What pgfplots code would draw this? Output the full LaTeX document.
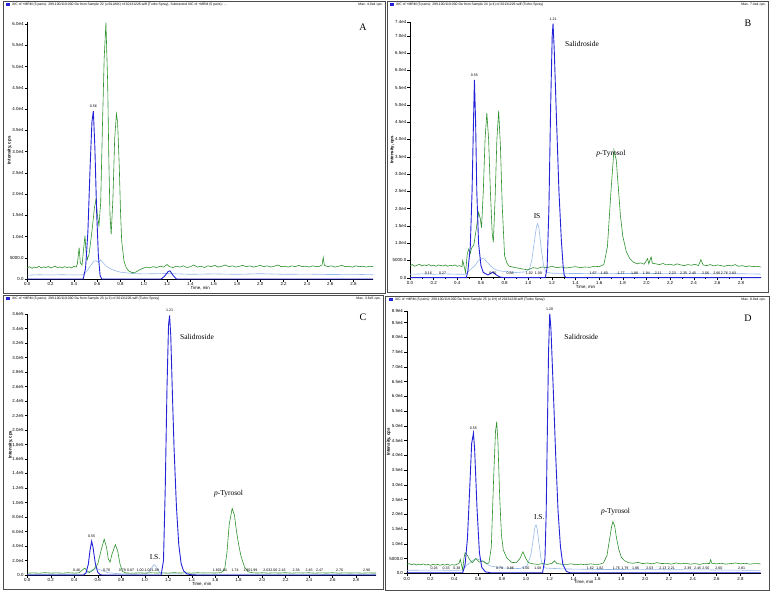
\documentclass[border=0pt]{standalone}
\usepackage{pgfplots}
\pgfplotsset{compat=1.18}
\usepackage{fontspec}
\setmainfont{Liberation Sans}
\newfontfamily\arialf{Liberation Sans}
\newfontfamily\timesf{Liberation Serif}
\newcommand\tickfont{\arialf\fontsize{4.4}{5}\selectfont}
\newcommand\hdrfont{\arialf\fontsize{3.4}{4}\selectfont}
\newcommand\annfont{\timesf\fontsize{7.5}{9}\selectfont}
\newcommand\letfont{\timesf\fontsize{10}{12}\selectfont}
\newcommand\rtfont{\arialf\fontsize{3.6}{4}\selectfont}
\definecolor{cgreen}{RGB}{45,145,45}
\definecolor{cblue}{RGB}{35,35,215}
\definecolor{clblue}{RGB}{150,185,235}
\newcommand\rtlabels[2]{%
  \foreach \px/\lab in {#2}{%
    \edef\temp{\noexpand\node[font=\noexpand\rtfont, inner sep=0pt] at (axis cs:\px,#1) {\lab};}\temp}}
\pgfplotsset{
  chrom/.style={
    scale only axis, axis lines*=left, xmin=0, xmax=2.97, ymin=0, clip=false,
    anchor=south west, scaled y ticks=false, scaled x ticks=false,
    tick align=outside, major tick length=2.6pt, minor tick length=1.2pt,
    xtick={0,0.2,0.4,0.6,0.8,1.0,1.2,1.4,1.6,1.8,2.0,2.2,2.4,2.6,2.8},
    xticklabels={0.0,0.2,0.4,0.6,0.8,1.0,1.2,1.4,1.6,1.8,2.0,2.2,2.4,2.6,2.8},
    minor x tick num=1,
    /pgf/number format/assume math mode=true,
    tick label style={font=\tickfont, inner sep=1pt},
    xlabel={Time, min}, ylabel={\textbf{Intensity, cps}},
    xlabel style={font=\tickfont, yshift=4pt},
    ylabel style={font=\tickfont, yshift=-6pt},
    axis line style={line width=0.4pt},
    every tick/.style={black, line width=0.3pt},
    lb/.style={color=clblue, line width=0.6pt, mark=none},
    gr/.style={color=cgreen, line width=0.6pt, mark=none},
    db/.style={color=cblue, line width=0.9pt, mark=none},
  }
}
\begin{document}
\begin{tikzpicture}[x=1pt,y=1pt]
\useasboundingbox (0,0) rectangle (772,592);
% frames
\draw[line width=0.5pt, black!70] (3,591) rectangle (385,299);
\draw[line width=0.5pt, black!70] (387,591) rectangle (768,300);
\draw[line width=0.5pt, black!70] (3,297) rectangle (383,3);
\draw[line width=0.5pt, black!70] (385,296) rectangle (769,2);
% headers
\fill[cblue] (6,585.5) rectangle (9.5,589);
\node[anchor=west, inner sep=0pt, font=\hdrfont] at (12,587.2) {XIC of +MRM (5 pairs): 299.100/119.000 Da from Sample 22 (u BLANK) of 20131226.wiff (Turbo Spray), Subtracted XIC of +MRM (5 pairs): ...};
\node[anchor=east, inner sep=0pt, font=\hdrfont] at (383,587.2) {Max. 4.0e4 cps.};
\fill[cblue] (390,585.5) rectangle (393.5,589);
\node[anchor=west, inner sep=0pt, font=\hdrfont] at (396,587.2) {XIC of +MRM (5 pairs): 299.100/119.000 Da from Sample 24 (u 4) of 20131226.wiff (Turbo Spray)};
\node[anchor=east, inner sep=0pt, font=\hdrfont] at (766,587.2) {Max. 7.4e4 cps.};
\fill[cblue] (6,291.5) rectangle (9.5,295);
\node[anchor=west, inner sep=0pt, font=\hdrfont] at (12,293.2) {XIC of +MRM (5 pairs): 299.100/119.000 Da from Sample 23 (u 3) of 20131226.wiff (Turbo Spray)};
\node[anchor=east, inner sep=0pt, font=\hdrfont] at (381,293.2) {Max. 3.6e5 cps.};
\fill[cblue] (389,290.5) rectangle (392.5,294);
\node[anchor=west, inner sep=0pt, font=\hdrfont] at (395,292.2) {XIC of +MRM (5 pairs): 299.100/119.000 Da from Sample 25 (u 1H) of 20131226.wiff (Turbo Spray)};
\node[anchor=east, inner sep=0pt, font=\hdrfont] at (766,292.2) {Max. 8.9e4 cps.};
% panel letters
\node[font=\letfont] at (363,565) {A};
\node[font=\letfont] at (748,569) {B};
\node[font=\letfont] at (363,275) {C};
\node[font=\letfont] at (748,274) {D};

%================ A
\begin{axis}[chrom, at={(27.3pt,313pt)}, width=346pt, height=257.1pt, ymax=60500,
  ytick={0,5000,10000,15000,20000,25000,30000,35000,40000,45000,50000,55000,60000},
  yticklabels={0.0,5000.0,1.0e4,1.5e4,2.0e4,2.5e4,3.0e4,3.5e4,4.0e4,4.5e4,5.0e4,5.5e4,6.0e4}]
\addplot[lb] coordinates {(0,900)(0.1,1000)(0.2,950)(0.3,1000)(0.4,950)(0.48,1000)(0.51,1800)(0.54,3000)(0.57,4200)(0.59,4300)(0.61,3900)(0.63,4500)(0.65,3800)(0.68,3000)(0.72,2300)(0.76,1900)(0.8,1600)(0.9,1300)(1.0,1200)(1.2,1300)(1.4,1100)(1.6,1200)(1.8,1100)(2.0,1250)(2.2,1100)(2.4,1150)(2.6,1050)(2.8,1100)(2.97,1000)};
\addplot[gr] coordinates {(0.00,2600)(0.02,2900)(0.04,2500)(0.06,2800)(0.08,2650)(0.10,3000)(0.12,2600)(0.14,2850)(0.16,2700)(0.18,2950)(0.20,2600)(0.22,2800)(0.24,3000)(0.26,2650)(0.28,2850)(0.30,2600)(0.32,2900)(0.34,2700)(0.36,2850)(0.38,2600)(0.40,3000)(0.42,2800)(0.43,3600)(0.445,7400)(0.455,3800)(0.47,3300)(0.485,7500)(0.495,10200)(0.505,6200)(0.515,4600)(0.53,5800)(0.545,9000)(0.56,12500)(0.575,16500)(0.59,18800)(0.60,15500)(0.615,12500)(0.63,18000)(0.645,36000)(0.66,52000)(0.675,60300)(0.69,46000)(0.70,28000)(0.71,15000)(0.72,10500)(0.735,19000)(0.75,33000)(0.765,38900)(0.775,37000)(0.79,26000)(0.80,16000)(0.81,9000)(0.83,4200)(0.85,2600)(0.87,1900)(0.90,1500)(0.93,1600)(0.96,2100)(0.99,2500)(1.02,2800)(1.05,2600)(1.08,2900)(1.11,2700)(1.14,3000)(1.17,2800)(1.20,3400)(1.22,2900)(1.25,2700)(1.28,3000)(1.31,2800)(1.34,3100)(1.37,2700)(1.40,2900)(1.43,3300)(1.46,2800)(1.49,3000)(1.52,2700)(1.55,3100)(1.58,2900)(1.61,3200)(1.64,2800)(1.67,3000)(1.70,3300)(1.73,2900)(1.76,3100)(1.79,2800)(1.82,3000)(1.85,3200)(1.88,2900)(1.91,3100)(1.94,2800)(1.97,3000)(2.00,3200)(2.03,2900)(2.06,3100)(2.09,2800)(2.12,3000)(2.15,3300)(2.18,2900)(2.21,3000)(2.24,2800)(2.27,3100)(2.30,2900)(2.33,3200)(2.36,2900)(2.39,3000)(2.42,2800)(2.45,3100)(2.48,2900)(2.51,3000)(2.53,3300)(2.54,5100)(2.55,3200)(2.58,2900)(2.61,3100)(2.64,2800)(2.67,3000)(2.70,3200)(2.73,2900)(2.76,3000)(2.79,2800)(2.82,3100)(2.85,2900)(2.88,3000)(2.91,2800)(2.94,3000)(2.97,2900)};
\addplot[db] coordinates {(0,0)(0.48,0)(0.50,2500)(0.52,11000)(0.54,27000)(0.555,37000)(0.567,39500)(0.58,31000)(0.595,16000)(0.61,5500)(0.625,800)(0.64,0)(1.15,0)(1.18,700)(1.21,1800)(1.225,1900)(1.25,900)(1.28,0)(2.97,0)};
\node[font=\rtfont, anchor=south] at (axis cs:0.567,39500) {0.56};
\end{axis}

%================ B
\begin{axis}[chrom, at={(410pt,314.3pt)}, width=351.1pt, height=255.8pt, ymax=74000,
  ytick={0,5000,10000,15000,20000,25000,30000,35000,40000,45000,50000,55000,60000,65000,70000,74000},
  yticklabels={0.0,5000.0,1.0e4,1.5e4,2.0e4,2.5e4,3.0e4,3.5e4,4.0e4,4.5e4,5.0e4,5.5e4,6.0e4,6.5e4,7.0e4,7.4e4}]
\addplot[lb] coordinates {(0,1000)(0.1,1100)(0.2,1000)(0.3,1100)(0.4,1000)(0.47,1000)(0.50,2000)(0.55,3500)(0.58,5000)(0.62,5700)(0.65,4600)(0.68,3500)(0.71,2600)(0.75,2000)(0.80,1800)(0.90,1500)(0.98,1700)(1.01,2500)(1.03,5000)(1.05,10000)(1.07,14800)(1.08,15700)(1.09,14500)(1.11,8500)(1.13,3500)(1.15,1600)(1.2,1300)(1.4,1200)(1.6,1300)(1.8,1200)(2.0,1250)(2.2,1150)(2.4,1200)(2.6,1100)(2.8,1150)(2.97,1050)};
\addplot[gr] coordinates {(0.00,3400)(0.02,3800)(0.04,3300)(0.06,3600)(0.08,3900)(0.10,3400)(0.12,3700)(0.14,3500)(0.16,3800)(0.18,3400)(0.20,3600)(0.22,3300)(0.24,3700)(0.26,3500)(0.28,3400)(0.30,3700)(0.32,3300)(0.34,3600)(0.36,3400)(0.38,3700)(0.40,3300)(0.42,3500)(0.44,3200)(0.446,5000)(0.47,1500)(0.485,7000)(0.497,8300)(0.51,7000)(0.52,8500)(0.54,9500)(0.56,14000)(0.58,18900)(0.595,17000)(0.605,14500)(0.62,25000)(0.635,40000)(0.65,47700)(0.665,40000)(0.68,25000)(0.695,13000)(0.705,10250)(0.72,23000)(0.735,40000)(0.75,48300)(0.765,38000)(0.78,21000)(0.80,6400)(0.82,4200)(0.84,3300)(0.88,3000)(0.91,2800)(0.94,2600)(0.97,2400)(1.00,2300)(1.04,2900)(1.08,2700)(1.12,3100)(1.16,2900)(1.20,3300)(1.24,2900)(1.28,3100)(1.32,2800)(1.36,3000)(1.40,3200)(1.44,2900)(1.48,3100)(1.52,3000)(1.56,3300)(1.60,3200)(1.64,3800)(1.67,9000)(1.70,25000)(1.725,36900)(1.745,34000)(1.76,27000)(1.78,18000)(1.80,12000)(1.83,7500)(1.86,5500)(1.89,4500)(1.92,4000)(1.95,4300)(1.98,3900)(2.01,5500)(2.02,4000)(2.04,6000)(2.05,4200)(2.08,4000)(2.11,3800)(2.14,4100)(2.17,3700)(2.20,3900)(2.23,3600)(2.26,4000)(2.29,3700)(2.32,3500)(2.35,3800)(2.38,3600)(2.41,3900)(2.44,3500)(2.46,5200)(2.48,3700)(2.51,3500)(2.54,3800)(2.57,3400)(2.60,3700)(2.63,3500)(2.66,3300)(2.69,3600)(2.72,3400)(2.75,3800)(2.78,3300)(2.81,3500)(2.84,3200)(2.87,3400)(2.90,3200)(2.93,3300)(2.97,3100)};
\addplot[db] coordinates {(0,0)(0.476,0)(0.49,2000)(0.51,9000)(0.525,25000)(0.537,45000)(0.545,57200)(0.555,45000)(0.565,25000)(0.58,10000)(0.60,3500)(0.62,1500)(0.66,800)(0.70,1600)(0.73,800)(0.76,200)(0.80,0)(1.145,0)(1.16,3000)(1.175,20000)(1.19,50000)(1.203,70000)(1.21,73500)(1.22,66000)(1.24,45000)(1.26,25000)(1.28,11000)(1.295,3500)(1.305,600)(1.32,0)(2.97,0)};
\node[font=\rtfont, anchor=south] at (axis cs:0.545,57200) {0.55};
\node[font=\rtfont, anchor=south] at (axis cs:1.21,73500) {1.21};
\node[font=\annfont] at (axis cs:1.455,67600) {Salidroside};
\node[font=\annfont] at (axis cs:1.075,17900) {IS};
\node[font=\annfont] at (axis cs:1.70,36000) {\textit{p}-Tyrosol};
\rtlabels{1400}{0.155/0.16,0.275/0.27,0.70/0.70,0.846/0.88,1.01/1.02,1.085/1.09,1.55/1.67,1.645/1.60,1.785/1.77,1.90/1.88,2.0/1.94,2.10/2.11,2.22/2.23,2.315/2.35,2.39/2.45,2.50/2.56,2.595/2.66,2.66/2.76,2.73/2.83}
\end{axis}

%================ C
\begin{axis}[chrom, at={(27.3pt,17pt)}, width=348.7pt, height=261pt, ymax=360000,
  ylabel style={yshift=1.5pt},
  ytick={0,20000,40000,60000,80000,100000,120000,140000,160000,180000,200000,220000,240000,260000,280000,300000,320000,340000,360000},
  yticklabels={0.0,2.0e4,4.0e4,6.0e4,8.0e4,1.0e5,1.2e5,1.4e5,1.6e5,1.8e5,2.0e5,2.2e5,2.4e5,2.6e5,2.8e5,3.0e5,3.2e5,3.4e5,3.6e5}]
\addplot[lb] coordinates {(0,1000)(0.2,1100)(0.4,1000)(0.48,1200)(0.52,3500)(0.56,8000)(0.60,8500)(0.64,6000)(0.68,3500)(0.74,2200)(0.80,1600)(0.9,1400)(1.0,1500)(1.03,3000)(1.05,7500)(1.07,12500)(1.08,14000)(1.09,13000)(1.11,8000)(1.13,3000)(1.15,1500)(1.3,1300)(1.6,1200)(2.0,1200)(2.5,1100)(2.97,1000)};
\addplot[gr] coordinates {(0.00,2500)(0.05,3000)(0.10,2500)(0.15,3200)(0.20,2600)(0.25,3000)(0.30,2500)(0.35,3100)(0.40,2600)(0.44,3000)(0.47,7000)(0.49,9500)(0.51,5500)(0.53,3500)(0.56,6500)(0.60,15000)(0.63,35000)(0.655,49400)(0.675,38000)(0.69,22000)(0.705,17800)(0.72,28000)(0.75,42000)(0.77,33000)(0.79,15000)(0.81,5000)(0.84,2800)(0.90,2500)(0.95,3000)(1.0,2600)(1.05,3100)(1.1,2700)(1.15,3000)(1.2,2600)(1.25,3200)(1.3,2700)(1.35,3000)(1.4,2600)(1.45,3100)(1.5,2800)(1.55,3000)(1.60,2700)(1.65,3200)(1.68,7000)(1.70,30000)(1.72,70000)(1.745,92000)(1.765,82000)(1.78,62000)(1.80,42000)(1.82,26000)(1.85,11000)(1.88,4500)(1.92,3000)(1.96,2700)(2.0,3100)(2.05,2600)(2.1,3000)(2.15,2700)(2.2,3200)(2.25,2600)(2.3,3000)(2.35,2800)(2.4,3100)(2.45,2600)(2.5,3000)(2.55,2700)(2.6,3100)(2.65,2600)(2.7,3000)(2.75,2700)(2.8,3000)(2.85,2600)(2.9,2900)(2.97,2700)};
\addplot[db] coordinates {(0,0)(0.48,0)(0.50,3000)(0.52,15000)(0.535,35000)(0.548,46600)(0.56,38000)(0.58,15000)(0.60,4000)(0.62,500)(0.64,0)(1.14,0)(1.16,20000)(1.175,120000)(1.19,260000)(1.203,345000)(1.212,358000)(1.222,330000)(1.235,255000)(1.25,175000)(1.27,95000)(1.29,42000)(1.31,16000)(1.33,6000)(1.36,1500)(1.40,300)(1.45,0)(2.97,0)};
\node[font=\rtfont, anchor=south] at (axis cs:0.548,46600) {0.55};
\node[font=\rtfont, anchor=south] at (axis cs:1.212,358000) {1.21};
\node[font=\annfont] at (axis cs:1.445,327700) {Salidroside};
\node[font=\annfont] at (axis cs:1.088,24800) {I.S.};
\node[font=\annfont] at (axis cs:1.714,112000) {\textit{p}-Tyrosol};
\rtlabels{6000}{0.42/0.46,0.676/0.70,0.81/0.79,0.88/0.87,0.96/1.00,1.03/1.02,1.09/1.09,1.61/1.60,1.67/1.64,1.77/1.74,1.87/1.90,1.93/1.99,2.04/2.03,2.10/2.06,2.17/2.16,2.29/2.38,2.40/2.45,2.49/2.47,2.66/2.70,2.89/2.90}
\end{axis}

%================ D
\begin{axis}[chrom, at={(406.7pt,18.7pt)}, width=354pt, height=262.6pt, ymax=89000,
  ytick={0,5000,10000,15000,20000,25000,30000,35000,40000,45000,50000,55000,60000,65000,70000,75000,80000,85000,89000},
  yticklabels={0.0,5000.0,1.0e4,1.5e4,2.0e4,2.5e4,3.0e4,3.5e4,4.0e4,4.5e4,5.0e4,5.5e4,6.0e4,6.5e4,7.0e4,7.5e4,8.0e4,8.5e4,8.9e4}]
\addplot[lb] coordinates {(0,1000)(0.2,1100)(0.4,1000)(0.47,1100)(0.50,2500)(0.54,4000)(0.58,5000)(0.62,4500)(0.66,3500)(0.70,2500)(0.80,1800)(0.95,1600)(1.01,2500)(1.04,6000)(1.06,11000)(1.075,15500)(1.085,16400)(1.095,15000)(1.11,10000)(1.13,4000)(1.16,1800)(1.3,1500)(1.6,1300)(2.0,1250)(2.5,1150)(2.97,1000)};
\addplot[gr] coordinates {(0.00,3000)(0.02,3300)(0.04,2900)(0.06,3200)(0.08,2800)(0.10,3100)(0.12,2900)(0.14,3200)(0.16,2800)(0.18,3000)(0.20,2700)(0.22,3100)(0.24,2800)(0.26,3000)(0.28,2700)(0.30,3000)(0.32,2800)(0.34,3100)(0.36,2700)(0.38,2900)(0.40,2800)(0.42,3000)(0.44,3500)(0.45,4700)(0.46,2800)(0.47,1200)(0.48,5000)(0.49,7000)(0.51,6000)(0.53,4500)(0.55,3600)(0.58,5000)(0.61,3800)(0.64,4200)(0.67,3300)(0.69,3500)(0.71,9000)(0.73,33000)(0.745,48000)(0.755,51400)(0.765,45000)(0.78,26000)(0.795,13000)(0.81,8000)(0.84,5200)(0.88,3700)(0.92,3600)(0.95,5000)(0.975,7300)(1.00,5000)(1.02,3600)(1.06,3200)(1.10,3000)(1.14,3300)(1.18,3000)(1.22,3400)(1.24,4200)(1.26,3300)(1.30,3100)(1.34,3000)(1.38,3200)(1.42,2900)(1.46,3100)(1.50,2900)(1.54,3200)(1.58,3000)(1.62,3100)(1.65,3500)(1.68,6000)(1.70,11000)(1.72,16000)(1.73,17500)(1.745,16000)(1.76,12000)(1.78,8000)(1.80,5500)(1.83,4200)(1.86,3600)(1.90,3400)(1.94,3700)(1.98,3300)(2.02,3500)(2.06,3200)(2.10,3600)(2.14,3300)(2.18,3400)(2.22,3100)(2.26,3500)(2.30,3200)(2.34,3400)(2.38,3100)(2.42,3300)(2.46,3000)(2.50,3400)(2.54,3300)(2.55,4600)(2.56,3400)(2.60,3200)(2.64,3400)(2.68,3100)(2.72,3300)(2.76,3500)(2.80,3200)(2.84,3400)(2.88,3100)(2.92,3300)(2.97,3200)};
\addplot[db] coordinates {(0,200)(0.47,200)(0.49,3000)(0.51,12000)(0.53,30000)(0.545,44000)(0.56,47500)(0.57,42000)(0.59,22000)(0.61,7000)(0.63,2000)(0.66,500)(0.70,200)(1.14,200)(1.16,5000)(1.17,20000)(1.18,48000)(1.19,75000)(1.20,88000)(1.21,83000)(1.23,62000)(1.25,40000)(1.27,21000)(1.29,9000)(1.31,3000)(1.34,600)(1.37,200)(2.97,200)};
\node[font=\rtfont, anchor=south] at (axis cs:0.56,47500) {0.55};
\node[font=\rtfont, anchor=south] at (axis cs:1.20,88000) {1.20};
\node[font=\annfont] at (axis cs:1.465,80200) {Salidroside};
\node[font=\annfont] at (axis cs:1.112,19000) {I.S.};
\node[font=\annfont] at (axis cs:1.752,20900) {\textit{p}-Tyrosol};
\rtlabels{1700}{0.23/0.26,0.33/0.33,0.42/0.38,0.78/0.78,0.87/0.86,1.00/1.00,1.10/1.08,1.54/1.62,1.62/1.82,1.76/1.76,1.83/1.79,1.92/1.86,2.04/2.03,2.15/2.13,2.22/2.21,2.36/2.39,2.44/2.45,2.51/2.50,2.62/2.60,2.81/2.81}
\end{axis}
\end{tikzpicture}
\end{document}
